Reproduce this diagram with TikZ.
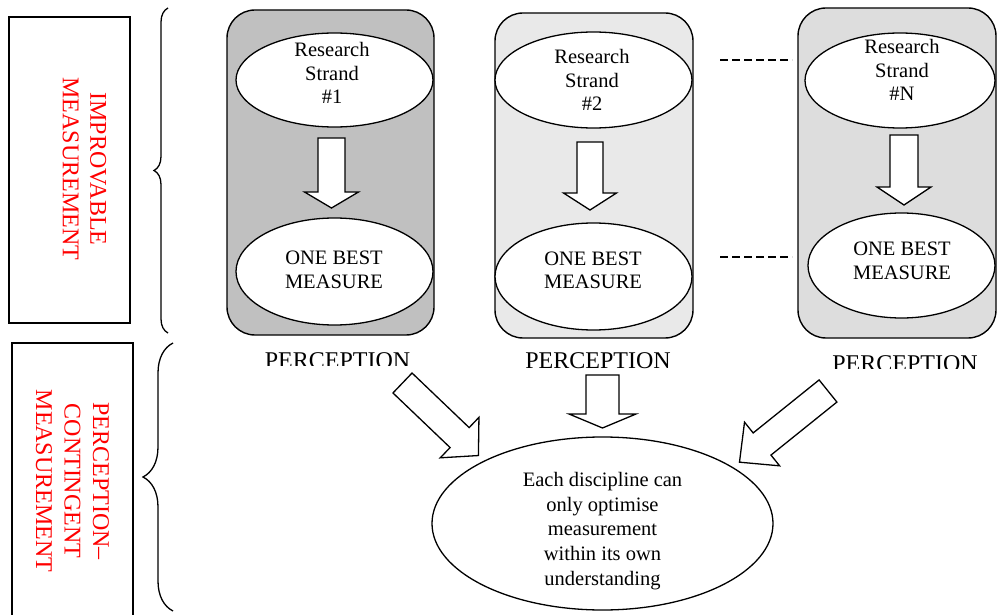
\documentclass[tikz,border=0pt]{standalone}
\usepackage{fontspec}
\setmainfont{Liberation Serif}
\usetikzlibrary{shapes.geometric,decorations.pathreplacing}

\definecolor{panelA}{RGB}{192,192,192}
\definecolor{panelB}{RGB}{233,233,233}
\definecolor{panelC}{RGB}{221,221,221}

% block arrow: tail x, tail y, angle, shaft length, head length, shaft half-width, head half-width
\newcommand{\blockarrowat}[7]{%
  \begin{scope}[shift={(#1,#2)},rotate=#3]
    \draw[blockarr] (0,-#6) -- (#4,-#6) -- (#4,-#7) -- ({#4+#5},0)
      -- (#4,#7) -- (#4,#6) -- (0,#6) -- cycle;
  \end{scope}}

\begin{document}
\begin{tikzpicture}[x=1pt,y=-1pt,
  frame/.style={draw=black,line width=1.6pt},
  panel/.style={rectangle,draw=black,line width=1.4pt,rounded corners=28pt,inner sep=0pt},
  oval/.style={ellipse,draw=black,fill=white,line width=1.3pt,inner sep=0pt},
  body/.style={font=\fontsize{20.5}{23.5}\selectfont,align=center,inner sep=0pt},
  sidelabel/.style={text=red,font=\fontsize{24}{27.5}\selectfont,align=center,rotate=-90,inner sep=0pt},
  perc/.style={font=\fontsize{24}{28}\selectfont,anchor=base,inner sep=0pt},
  blockarr/.style={draw=black,fill=white,line width=1.3pt,line join=miter},
  gap/.style={line width=1.2pt,dash pattern=on 8pt off 4pt},
  bracket/.style={decorate,line width=1.3pt}
]
\clip (0,0) rectangle (997,615);

% left-hand category boxes
\node[frame,minimum width=121,minimum height=306,inner sep=0pt] (boxA) at (69.5,170) {};
\node[sidelabel] (labA) at (84.5,169) {IMPROVABLE\\MEASUREMENT};
\node[frame,minimum width=121,minimum height=287,inner sep=0pt] (boxB) at (72.5,486.5) {};
\node[sidelabel,font=\fontsize{24}{28.5}\selectfont] (labB) at (72.5,481) {PERCEPTION–\\CONTINGENT\\MEASUREMENT};

% braces
\draw[bracket,decoration={brace,amplitude=14pt}] (168,333) -- (168,8);
\draw[bracket,decoration={brace,amplitude=30pt}] (173,611) -- (173,343);

% research strand panels
\node[panel,fill=panelA,minimum width=207,minimum height=325] (p1) at (330.5,172.5) {};
\node[panel,fill=panelB,minimum width=198,minimum height=325] (p2) at (594,175.5) {};
\node[panel,fill=panelC,minimum width=198,minimum height=330] (p3) at (897,173) {};

% strand ovals
\node[oval,minimum width=197,minimum height=94] (s1) at (334.5,80) {};
\node[oval,minimum width=197,minimum height=107] (m1) at (334.5,271.5) {};
\node[oval,minimum width=197,minimum height=96] (s2) at (593.5,80) {};
\node[oval,minimum width=197,minimum height=107] (m2) at (593.5,276.5) {};
\node[oval,minimum width=190,minimum height=95] (s3) at (900,80.5) {};
\node[oval,minimum width=187,minimum height=105] (m3) at (901.5,265.5) {};

\node[body] (t1) at (332,73) {Research\\Strand\\\#1};
\node[body] (b1) at (334,270) {ONE BEST\\MEASURE};
\node[body] (t2) at (592,80) {Research\\Strand\\\#2};
\node[body] (b2) at (593,270.5) {ONE BEST\\MEASURE};
\node[body] (t3) at (902,70) {Research\\Strand\\\#N};
\node[body] (b3) at (902,261) {ONE BEST\\MEASURE};

% arrows inside the panels
\blockarrowat{331.5}{138}{-90}{54}{16}{13.5}{27}
\blockarrowat{590}{142}{-90}{51}{17}{13}{26.5}
\blockarrowat{904}{135}{-90}{52}{18}{14}{27}

% dashed continuation between strand 2 and strand N
\coordinate (d1a) at (720,60);  \coordinate (d1b) at (792,60);
\coordinate (d2a) at (720,257); \coordinate (d2b) at (792,257);
\draw[gap] (d1a) -- (d1b);
\draw[gap] (d2a) -- (d2b);

% perception captions
\begin{scope}
  \clip (200,340) rectangle (480,365);
  \node[perc] (c1) at (337.5,368) {PERCEPTION};
\end{scope}
\node[perc] (c2) at (598,368) {PERCEPTION};
\begin{scope}
  \clip (800,340) rectangle (997,368.5);
  \node[perc] (c3) at (905,371) {PERCEPTION};
\end{scope}

% converging arrows
\blockarrowat{402.5}{383}{-43.7}{79}{26}{13.8}{28}
\blockarrowat{602.5}{375}{-90}{39}{14}{16.5}{33.5}
\blockarrowat{828}{391}{-141.2}{84.6}{29}{14.2}{28}

% conclusion
\node[oval,minimum width=341,minimum height=173] (res) at (602.5,523.5) {};
\node[body,font=\fontsize{20.5}{24.7}\selectfont] (rest) at (602.5,531) {Each discipline can\\only optimise\\measurement\\within its own\\understanding};
\end{tikzpicture}
\end{document}
